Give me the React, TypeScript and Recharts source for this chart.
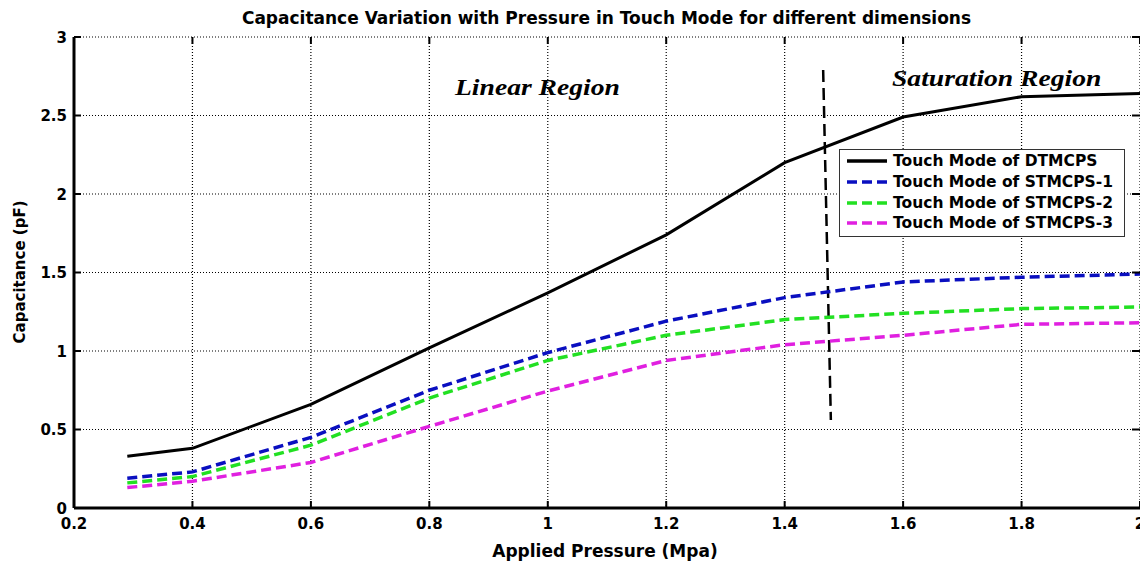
import * as React from "react";
import { CartesianGrid, Line, LineChart, ReferenceLine, XAxis, YAxis } from "recharts";

// Capacitance vs pressure, touch mode.
const pressure = [0.29, 0.4, 0.6, 0.8, 1.0, 1.2, 1.4, 1.6, 1.8, 2.0];
const dtmcps = [0.33, 0.38, 0.66, 1.02, 1.37, 1.74, 2.2, 2.49, 2.62, 2.64];
const stmcps1 = [0.19, 0.23, 0.45, 0.75, 0.99, 1.19, 1.34, 1.44, 1.47, 1.49];
const stmcps2 = [0.16, 0.2, 0.4, 0.7, 0.94, 1.1, 1.2, 1.24, 1.27, 1.28];
const stmcps3 = [0.13, 0.17, 0.29, 0.52, 0.745, 0.94, 1.04, 1.1, 1.17, 1.18];

const xTicks = [0.2, 0.4, 0.6, 0.8, 1, 1.2, 1.4, 1.6, 1.8, 2];
const yTicks = [0, 0.5, 1, 1.5, 2, 2.5, 3];

// boundary between linear and saturation regions (slightly slanted in the figure)
const boundary = [
  { x: 1.465, y: 2.79 },
  { x: 1.478, y: 0.56 },
];

const series = [
  { key: "dtmcps", name: "Touch Mode of DTMCPS", color: "#000000", dash: undefined as string | undefined },
  { key: "stmcps1", name: "Touch Mode of STMCPS-1", color: "#0a0fc0", dash: "10 5" },
  { key: "stmcps2", name: "Touch Mode of STMCPS-2", color: "#22e022", dash: "10 5" },
  { key: "stmcps3", name: "Touch Mode of STMCPS-3", color: "#e020e0", dash: "10 5" },
];

const data = pressure.map((p, i) => ({
  p,
  dtmcps: dtmcps[i],
  stmcps1: stmcps1[i],
  stmcps2: stmcps2[i],
  stmcps3: stmcps3[i],
}));

const W = 1140;
const H = 562;
const M = { top: 37, right: 0, bottom: 0, left: 0 };
const Y_AXIS_W = 74;
const X_AXIS_H = 54;
const PLOT_BOTTOM = H - X_AXIS_H;
const PLOT_LEFT = Y_AXIS_W;
const FONT = "'DejaVu Sans', Verdana, sans-serif";
const SERIF = "'Liberation Serif', 'Times New Roman', serif";

// tick marks point inward, as in the MATLAB figure
function XTick(props: any) {
  const { x, payload } = props;
  return (
    <g>
      <line x1={x} x2={x} y1={PLOT_BOTTOM} y2={PLOT_BOTTOM - 7} stroke="#000" strokeWidth={2} />
      <line x1={x} x2={x} y1={M.top} y2={M.top + 7} stroke="#000" strokeWidth={2} />
      <text x={x} y={PLOT_BOTTOM + 21} textAnchor="middle" fontFamily={FONT} fontWeight="bold" fontSize={15} fill="#000">
        {payload.value}
      </text>
    </g>
  );
}

function YTick(props: any) {
  const { y, payload } = props;
  return (
    <g>
      <line x1={PLOT_LEFT} x2={PLOT_LEFT + 7} y1={y} y2={y} stroke="#000" strokeWidth={2} />
      <line x1={W - 8} x2={W} y1={y} y2={y} stroke="#000" strokeWidth={2} />
      <text x={PLOT_LEFT - 7} y={y + 5.5} textAnchor="end" fontFamily={FONT} fontWeight="bold" fontSize={15} fill="#000">
        {payload.value}
      </text>
    </g>
  );
}

function LegendBox() {
  return (
    <div
      style={{
        position: "absolute",
        left: 839,
        top: 149,
        width: 284,
        border: "1px solid #333",
        background: "#fff",
        padding: "1px 0 2px 0",
        fontFamily: FONT,
        fontWeight: "bold",
        fontSize: 15.5,
        color: "#000",
      }}
    >
      {series.map((s) => (
        <div key={s.key} style={{ display: "flex", alignItems: "center", height: 20.7, whiteSpace: "nowrap" }}>
          <svg width={40} height={10} style={{ marginLeft: 7, marginRight: 6, flexShrink: 0 }}>
            <line x1={0} x2={40} y1={5} y2={5} stroke={s.color} strokeWidth={3.5} strokeDasharray={s.dash} />
          </svg>
          <span>{s.name}</span>
        </div>
      ))}
    </div>
  );
}

const regionStyle: React.CSSProperties = {
  position: "absolute",
  fontFamily: SERIF,
  fontStyle: "italic",
  fontWeight: "bold",
  fontSize: 23,
  lineHeight: "26px",
  whiteSpace: "nowrap",
  transform: "scaleX(1.2)",
  transformOrigin: "left center",
};

export default function App() {
  return (
    <div style={{ position: "fixed", left: 0, top: 0, width: W, height: H, background: "#fff", overflow: "hidden" }}>
      <LineChart width={W} height={H} data={data} margin={M}>
        <CartesianGrid stroke="#000" strokeDasharray="1 2" strokeWidth={1.2} />
        <XAxis
          dataKey="p"
          type="number"
          domain={[0.2, 2]}
          ticks={xTicks}
          height={X_AXIS_H}
          axisLine={{ stroke: "#000", strokeWidth: 3 }}
          tickLine={false}
          tick={<XTick />}
          interval={0}
        />
        <XAxis
          xAxisId="top"
          orientation="top"
          dataKey="p"
          type="number"
          domain={[0.2, 2]}
          height={0}
          axisLine={{ stroke: "#000", strokeWidth: 3 }}
          tick={false}
          tickLine={false}
        />
        <YAxis
          type="number"
          domain={[0, 3]}
          ticks={yTicks}
          width={Y_AXIS_W}
          axisLine={{ stroke: "#000", strokeWidth: 3 }}
          tickLine={false}
          tick={<YTick />}
          interval={0}
        />
        <ReferenceLine segment={boundary} stroke="#000" strokeWidth={2.5} strokeDasharray="12 6" ifOverflow="visible" />
        {series.map((s) => (
          <Line
            key={s.key}
            dataKey={s.key}
            name={s.name}
            type="linear"
            stroke={s.color}
            strokeWidth={s.dash ? 3.5 : 3}
            strokeDasharray={s.dash}
            dot={false}
            activeDot={false}
            isAnimationActive={false}
          />
        ))}
      </LineChart>

      <LegendBox />

      <div
        style={{
          position: "absolute",
          top: 7,
          left: 0,
          width: 1213,
          textAlign: "center",
          fontFamily: FONT,
          fontWeight: "bold",
          fontSize: 17,
          lineHeight: "22px",
        }}
      >
        Capacitance Variation with Pressure in Touch Mode for different dimensions
      </div>
      <div
        style={{
          position: "absolute",
          left: 20,
          top: 272,
          transform: "translate(-50%, -50%) rotate(-90deg)",
          whiteSpace: "nowrap",
          fontFamily: FONT,
          fontWeight: "bold",
          fontSize: 15,
          lineHeight: "18px",
        }}
      >
        Capacitance (pF)
      </div>
      <div
        style={{
          position: "absolute",
          left: 0,
          top: 540,
          width: 1210,
          textAlign: "center",
          fontFamily: FONT,
          fontWeight: "bold",
          fontSize: 17,
          lineHeight: "22px",
        }}
      >
        Applied Pressure (Mpa)
      </div>
      <div style={{ ...regionStyle, left: 455, top: 75 }}>Linear Region</div>
      <div style={{ ...regionStyle, left: 892, top: 66 }}>Saturation Region</div>
    </div>
  );
}
